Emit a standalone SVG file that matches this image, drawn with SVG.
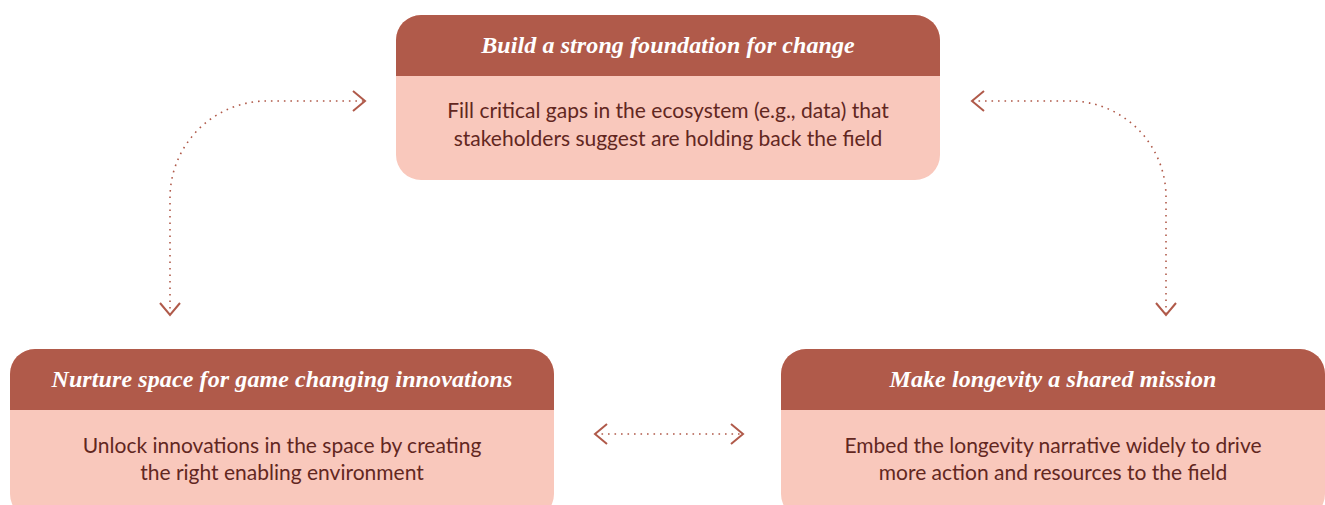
<svg xmlns="http://www.w3.org/2000/svg" width="1325" height="505" viewBox="0 0 1325 505">
<style>
.body{fill:#F9C8BC}
.head{fill:#B05A4A}
.ht{font-family:"Liberation Serif",serif;font-style:italic;font-weight:bold;font-size:24px;letter-spacing:0.1px;fill:#FFFFFF;text-anchor:middle}
.bt{font-family:Lato,"Liberation Sans",sans-serif;font-size:21px;fill:#62271F;text-anchor:middle}
.conn{fill:none;stroke:#B05A4A;stroke-width:1.6;stroke-dasharray:1.6 4.9}
</style>
<defs>
<marker id="chev" markerUnits="userSpaceOnUse" viewBox="-14 -12 16 24" markerWidth="16" markerHeight="24" refX="0" refY="0" orient="auto-start-reverse">
<path d="M-12,-10 L0,0 L-12,10" fill="none" stroke="#B05A4A" stroke-width="2"/>
</marker>
</defs>
<rect width="1325" height="505" fill="#FFFFFF"/>
<g id="connectors">
<path class="conn" d="M170,315 L170,198 A97,97 0 0 1 267,101 L365,101" marker-start="url(#chev)" marker-end="url(#chev)"/>
<path class="conn" d="M972,101 L1070,101 A96,96 0 0 1 1166,197 L1166,315" marker-start="url(#chev)" marker-end="url(#chev)"/>
<path class="conn" d="M595,434 L743,434" marker-start="url(#chev)" marker-end="url(#chev)"/>
</g>
<g id="node-foundation">
<rect class="body" x="396" y="15" width="544" height="165" rx="25"/>
<path class="head" d="M396,76 V40 A25,25 0 0 1 421,15 H915 A25,25 0 0 1 940,40 V76 Z"/>
<text class="ht" x="668" y="53">Build a strong foundation for change</text>
<text class="bt" x="668" y="118">Fill critical gaps in the ecosystem (e.g., data) that</text>
<text class="bt" x="668" y="146">stakeholders suggest are holding back the field</text>
</g>
<g id="node-nurture">
<rect class="body" x="10" y="349" width="544" height="170" rx="25"/>
<path class="head" d="M10,410 V374 A25,25 0 0 1 35,349 H529 A25,25 0 0 1 554,374 V410 Z"/>
<text class="ht" x="282" y="387">Nurture space for game changing innovations</text>
<text class="bt" x="282" y="453">Unlock innovations in the space by creating</text>
<text class="bt" x="282" y="480">the right enabling environment</text>
</g>
<g id="node-mission">
<rect class="body" x="781" y="349" width="544" height="170" rx="25"/>
<path class="head" d="M781,410 V374 A25,25 0 0 1 806,349 H1300 A25,25 0 0 1 1325,374 V410 Z"/>
<text class="ht" x="1053" y="387">Make longevity a shared mission</text>
<text class="bt" x="1053" y="453">Embed the longevity narrative widely to drive</text>
<text class="bt" x="1053" y="480">more action and resources to the field</text>
</g>
</svg>
